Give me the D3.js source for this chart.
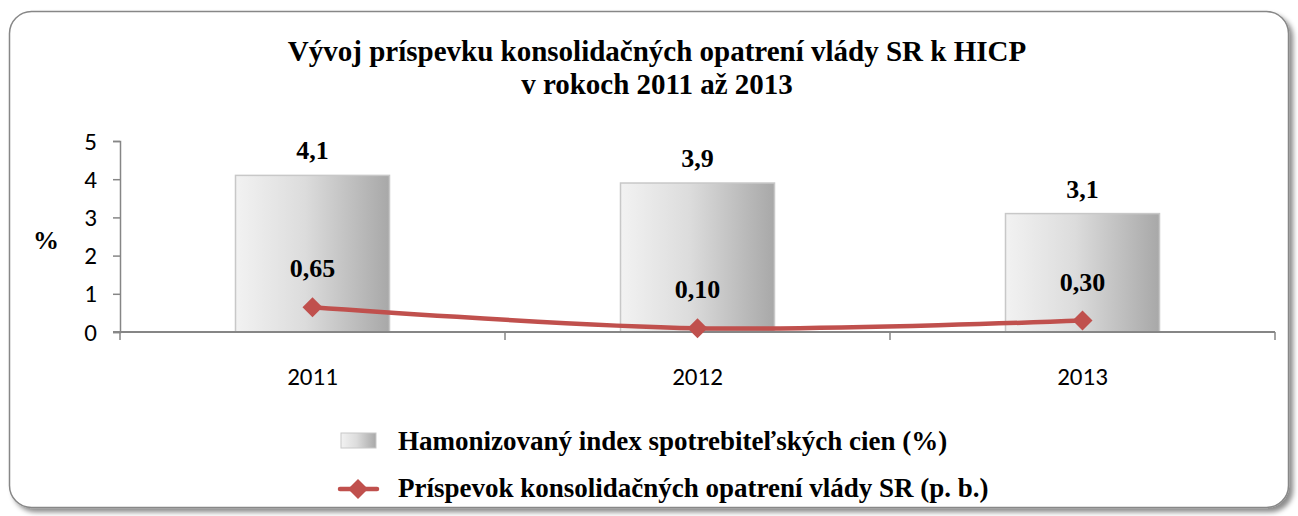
<!DOCTYPE html>
<html>
<head>
<meta charset="utf-8">
<script src="https://cdn.jsdelivr.net/npm/d3@7"></script>
<style>
  body { margin: 0; background: #fff; }
  svg { display: block; }
</style>
</head>
<body>
<svg width="1298" height="516"></svg>
<script>
// chart data
var years = ["2011", "2012", "2013"];
var hicp = [4.1, 3.9, 3.1];
var hicpLabels = ["4,1", "3,9", "3,1"];
var contrib = [0.65, 0.10, 0.30];
var contribLabels = ["0,65", "0,10", "0,30"];
var yTicks = [0, 1, 2, 3, 4, 5];
var titleLines = ["Vývoj príspevku konsolidačných opatrení vlády SR k HICP", "v rokoch 2011 až 2013"];
var legendNames = ["Hamonizovaný index spotrebiteľských cien (%)", "Príspevok konsolidačných opatrení vlády SR (p. b.)"];

var serif = "'Liberation Serif', 'Times New Roman', serif";
var sans = "Carlito, 'Open Sans', 'Liberation Sans', sans-serif";
var red = "#c0504d";

var svg = d3.select("svg");
var defs = svg.append("defs");

// shadow for the outer frame
var f = defs.append("filter").attr("id", "shadow").attr("x", "-5%").attr("y", "-5%").attr("width", "110%").attr("height", "115%");
f.append("feDropShadow").attr("dx", 4).attr("dy", 4).attr("stdDeviation", 2.5).attr("flood-color", "#000").attr("flood-opacity", 0.45);

// bar gradient, light on the left, darker on the right
var g = defs.append("linearGradient").attr("id", "barGrad").attr("x1", "0%").attr("x2", "100%");
g.append("stop").attr("offset", "0%").attr("stop-color", "#f2f2f2");
g.append("stop").attr("offset", "45%").attr("stop-color", "#dcdcdc");
g.append("stop").attr("offset", "100%").attr("stop-color", "#a8a8a8");

// outer frame
svg.append("rect")
  .attr("x", 9.5).attr("y", 11.5)
  .attr("width", 1279).attr("height", 496)
  .attr("rx", 22).attr("ry", 22)
  .attr("fill", "#fff")
  .attr("stroke", "#878787")
  .attr("stroke-width", 1.5)
  .attr("filter", "url(#shadow)");

// title
svg.append("text")
  .attr("x", 657).attr("y", 61)
  .attr("text-anchor", "middle")
  .attr("font-family", serif).attr("font-weight", "bold").attr("font-size", 29)
  .selectAll("tspan")
  .data(titleLines)
  .enter().append("tspan")
  .attr("x", 657)
  .attr("dy", function(d, i) { return i ? 33 : 0; })
  .text(function(d) { return d; });

var plotLeft = 120, plotRight = 1275, plotTop = 141, plotBottom = 332;

var x = d3.scaleBand().domain(years).range([plotLeft, plotRight]).paddingInner(0.6).paddingOuter(0.3);
var xc = function(d) { return x(d) + x.bandwidth() / 2; };
var y = d3.scaleLinear().domain([0, 5]).range([plotBottom, plotTop]);

// bars
svg.selectAll("rect.bar")
  .data(hicp)
  .enter().append("rect")
  .attr("class", "bar")
  .attr("x", function(d, i) { return x(years[i]); })
  .attr("width", x.bandwidth())
  .attr("y", function(d) { return y(d); })
  .attr("height", function(d) { return plotBottom - y(d); })
  .attr("fill", "url(#barGrad)")
  .attr("stroke", "#c8c8c8")
  .attr("stroke-width", 1.5);

// y axis
var yAxis = svg.append("g")
  .attr("transform", "translate(" + plotLeft + ",0)")
  .call(d3.axisLeft(y).tickValues(yTicks).tickSize(7).tickPadding(16).tickFormat(d3.format("d")));
yAxis.select(".domain").attr("stroke", "#868686").attr("stroke-width", 1.5);
yAxis.selectAll(".tick line").attr("stroke", "#868686").attr("stroke-width", 1.5);
yAxis.selectAll(".tick text").attr("font-family", sans).attr("font-size", 25).attr("fill", "#000");

// x axis with ticks on category boundaries
var xAxis = svg.append("g").attr("transform", "translate(0," + plotBottom + ")");
xAxis.append("line")
  .attr("x1", plotLeft - 7).attr("x2", plotRight)
  .attr("stroke", "#868686").attr("stroke-width", 2);
var bounds = d3.range(years.length + 1).map(function(i) { return plotLeft + i * (plotRight - plotLeft) / years.length; });
xAxis.selectAll("line.tk")
  .data(bounds)
  .enter().append("line")
  .attr("class", "tk")
  .attr("x1", function(d) { return d; }).attr("x2", function(d) { return d; })
  .attr("y1", 0).attr("y2", 8)
  .attr("stroke", "#868686").attr("stroke-width", 1.5);
xAxis.selectAll("text")
  .data(years)
  .enter().append("text")
  .attr("x", function(d) { return xc(d); })
  .attr("y", 53)
  .attr("text-anchor", "middle")
  .attr("font-family", sans).attr("font-size", 25)
  .text(function(d) { return d; });

// y unit label
svg.append("text")
  .attr("x", 46).attr("y", 249)
  .attr("text-anchor", "middle")
  .attr("font-family", serif).attr("font-weight", "bold").attr("font-size", 26)
  .text("%");

// bar value labels
svg.selectAll("text.barlab")
  .data(hicp)
  .enter().append("text")
  .attr("class", "barlab")
  .attr("x", function(d, i) { return xc(years[i]); })
  .attr("y", function(d) { return y(d) - 16; })
  .attr("text-anchor", "middle")
  .attr("font-family", serif).attr("font-weight", "bold").attr("font-size", 26)
  .text(function(d, i) { return hicpLabels[i]; });

// contribution line
var line = d3.line()
  .x(function(d, i) { return xc(years[i]); })
  .y(function(d) { return y(d); })
  .curve(d3.curveCatmullRom.alpha(0.5));
svg.append("path")
  .datum(contrib)
  .attr("d", line)
  .attr("fill", "none")
  .attr("stroke", red)
  .attr("stroke-width", 4.5)
  .attr("stroke-linecap", "round");

var diamond = d3.symbol().type(d3.symbolSquare).size(200);
svg.selectAll("path.pt")
  .data(contrib)
  .enter().append("path")
  .attr("class", "pt")
  .attr("d", diamond)
  .attr("transform", function(d, i) { return "translate(" + xc(years[i]) + "," + y(d) + ") rotate(45)"; })
  .attr("fill", red);

svg.selectAll("text.linelab")
  .data(contrib)
  .enter().append("text")
  .attr("class", "linelab")
  .attr("x", function(d, i) { return xc(years[i]); })
  .attr("y", function(d) { return y(d) - 30; })
  .attr("text-anchor", "middle")
  .attr("font-family", serif).attr("font-weight", "bold").attr("font-size", 26)
  .text(function(d, i) { return contribLabels[i]; });

// legend
var lg = svg.append("g");
lg.append("rect")
  .attr("x", 341).attr("y", 433).attr("width", 35).attr("height", 15)
  .attr("fill", "url(#barGrad)").attr("stroke", "#c8c8c8");
lg.append("line")
  .attr("x1", 340).attr("x2", 377).attr("y1", 489).attr("y2", 489)
  .attr("stroke", red).attr("stroke-width", 4.5).attr("stroke-linecap", "round");
lg.append("path")
  .attr("d", diamond)
  .attr("transform", "translate(358,489) rotate(45)")
  .attr("fill", red);
lg.selectAll("text")
  .data(legendNames)
  .enter().append("text")
  .attr("x", 398)
  .attr("y", function(d, i) { return 450 + i * 47; })
  .attr("font-family", serif).attr("font-weight", "bold").attr("font-size", 27)
  .text(function(d) { return d; });
</script>
</body>
</html>
